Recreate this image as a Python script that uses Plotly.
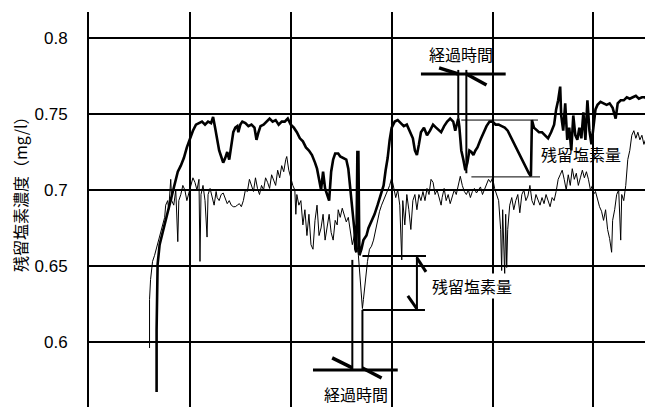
import plotly.graph_objects as go

# ---- data (time in arbitrary units, grid every 100; concentration in mg/l) ----
thick_t = [67, 67, 68, 70, 73, 76, 79, 82, 85, 88,
           91, 94, 97, 100, 103, 106, 109, 112, 115, 118,
           121, 123, 125, 127, 129, 131, 133, 135, 137, 139,
           141, 143, 145, 147, 148, 150, 152, 155, 158, 161,
           164, 166, 168, 170, 173, 176, 179, 182, 185, 188,
           191, 194, 197, 200, 203, 206, 209, 212, 215, 218,
           221, 224, 226, 228, 230, 232, 234, 236, 238, 240,
           242, 244, 247, 249, 252, 255, 257, 259, 261, 263,
           264, 265, 266, 267, 268, 270, 272, 275, 277, 280,
           283, 286, 289, 292, 294, 296, 298, 300, 303, 306,
           309, 312, 315, 318, 321, 323, 325, 327, 329, 332,
           335, 338, 341, 344, 347, 349, 352, 355, 358, 361,
           363, 365, 366, 367, 369, 371, 373, 375, 377, 379,
           381, 383, 385, 388, 391, 394, 397, 400, 403, 406,
           409, 412, 415, 418, 421, 424, 427, 430, 433, 436,
           438, 439, 441, 444, 446, 449, 452, 455, 458, 461,
           463, 465, 467, 468, 470, 472, 474, 476, 478, 480,
           482, 484, 486, 488, 490, 492, 494, 496, 498, 500,
           502, 504, 507, 510, 513, 516, 519, 522, 524, 527,
           530, 533, 536, 539, 542, 545, 548, 551, 554, 557,
           559]
thick_c = [0.567, 0.608, 0.651, 0.664, 0.672, 0.680, 0.690, 0.697, 0.705, 0.712,
           0.716, 0.721, 0.728, 0.734, 0.739, 0.743, 0.744, 0.745, 0.743, 0.745,
           0.744, 0.748, 0.741, 0.733, 0.726, 0.722, 0.718, 0.721, 0.725, 0.720,
           0.730, 0.738, 0.741, 0.742, 0.738, 0.743, 0.745, 0.744, 0.742, 0.743,
           0.741, 0.733, 0.738, 0.742, 0.743, 0.745, 0.747, 0.745, 0.746, 0.743,
           0.745, 0.745, 0.747, 0.743, 0.741, 0.738, 0.734, 0.732, 0.728, 0.726,
           0.723, 0.718, 0.714, 0.707, 0.700, 0.712, 0.701, 0.697, 0.693, 0.712,
           0.720, 0.724, 0.724, 0.722, 0.721, 0.720, 0.714, 0.700, 0.690, 0.674,
           0.661, 0.659, 0.725, 0.725, 0.657, 0.661, 0.667, 0.670, 0.675, 0.679,
           0.684, 0.690, 0.697, 0.703, 0.713, 0.721, 0.733, 0.741, 0.745, 0.746,
           0.744, 0.742, 0.743, 0.739, 0.734, 0.726, 0.723, 0.730, 0.738, 0.741,
           0.736, 0.739, 0.743, 0.741, 0.739, 0.738, 0.742, 0.745, 0.747, 0.745,
           0.739, 0.745, 0.747, 0.742, 0.726, 0.720, 0.713, 0.718, 0.726, 0.725,
           0.723, 0.726, 0.728, 0.733, 0.738, 0.742, 0.745, 0.745, 0.743, 0.743,
           0.742, 0.741, 0.739, 0.735, 0.730, 0.726, 0.722, 0.718, 0.714, 0.711,
           0.709, 0.746, 0.741, 0.739, 0.738, 0.738, 0.736, 0.734, 0.738, 0.743,
           0.753, 0.759, 0.768, 0.749, 0.739, 0.757, 0.733, 0.741, 0.726, 0.749,
           0.736, 0.733, 0.741, 0.734, 0.751, 0.733, 0.759, 0.739, 0.730, 0.743,
           0.753, 0.756, 0.758, 0.757, 0.756, 0.757, 0.754, 0.747, 0.757, 0.759,
           0.759, 0.761, 0.760, 0.761, 0.762, 0.760, 0.761, 0.761, 0.759, 0.757,
           0.757]

thin_t = [60, 60, 61, 63, 65, 67, 69, 71, 73, 75,
          76, 78, 79, 81, 82, 84, 86, 88, 89, 91,
          93, 95, 97, 99, 101, 103, 105, 107, 109, 110,
          111, 113, 115, 117, 118, 120, 122, 124, 126, 127,
          129, 131, 133, 135, 137, 139, 141, 143, 145, 147,
          149, 151, 153, 155, 157, 159, 161, 163, 165, 167,
          169, 171, 173, 175, 177, 179, 181, 183, 185, 187,
          189, 191, 193, 195, 196, 198, 200, 202, 204, 205,
          206, 208, 210, 212, 214, 216, 218, 220, 222, 224,
          226, 228, 230, 232, 234, 236, 238, 240, 242, 244,
          246, 247, 249, 251, 253, 255, 257, 259, 261, 263,
          265, 267, 269, 270, 271, 272, 274, 276, 278, 280,
          282, 284, 286, 288, 290, 292, 294, 296, 298, 300,
          302, 304, 306, 308, 310, 311, 313, 315, 317, 319,
          321, 323, 325, 327, 329, 331, 333, 335, 337, 339,
          341, 343, 345, 347, 349, 350, 352, 354, 356, 358,
          360, 362, 364, 366, 368, 370, 372, 374, 376, 378,
          380, 382, 384, 386, 388, 390, 392, 394, 396, 398,
          400, 402, 404, 406, 408, 409, 410, 411, 412, 413,
          414, 415, 417, 419, 421, 423, 425, 427, 429, 431,
          433, 435, 437, 439, 441, 443, 445, 447, 449, 451,
          453, 455, 457, 459, 461, 463, 465, 467, 469, 471,
          473, 475, 477, 479, 481, 483, 485, 487, 489, 491,
          493, 495, 497, 499, 500, 502, 504, 506, 508, 510,
          512, 514, 516, 518, 519, 521, 523, 525, 527, 528,
          530, 532, 534, 536, 538, 540, 542, 544, 546, 548,
          550, 552, 554, 556, 558, 559]
thin_c = [0.596, 0.628, 0.641, 0.653, 0.657, 0.662, 0.667, 0.672, 0.676, 0.682,
          0.690, 0.693, 0.687, 0.707, 0.693, 0.690, 0.700, 0.666, 0.693, 0.697,
          0.703, 0.700, 0.693, 0.699, 0.703, 0.708, 0.705, 0.700, 0.707, 0.653,
          0.697, 0.703, 0.693, 0.669, 0.697, 0.701, 0.695, 0.690, 0.699, 0.695,
          0.693, 0.697, 0.698, 0.695, 0.691, 0.693, 0.690, 0.689, 0.689, 0.690,
          0.691, 0.689, 0.693, 0.700, 0.699, 0.707, 0.703, 0.699, 0.708, 0.701,
          0.697, 0.703, 0.700, 0.708, 0.705, 0.701, 0.710, 0.707, 0.703, 0.713,
          0.708, 0.716, 0.712, 0.720, 0.722, 0.713, 0.708, 0.703, 0.700, 0.684,
          0.697, 0.690, 0.693, 0.677, 0.687, 0.670, 0.684, 0.664, 0.661, 0.680,
          0.690, 0.670, 0.675, 0.684, 0.667, 0.677, 0.684, 0.672, 0.667, 0.680,
          0.677, 0.687, 0.682, 0.688, 0.684, 0.679, 0.682, 0.674, 0.664, 0.670,
          0.667, 0.657, 0.641, 0.628, 0.622, 0.628, 0.641, 0.653, 0.661, 0.663,
          0.667, 0.674, 0.679, 0.686, 0.690, 0.693, 0.697, 0.700, 0.703, 0.708,
          0.701, 0.695, 0.700, 0.690, 0.654, 0.693, 0.677, 0.697, 0.687, 0.674,
          0.693, 0.697, 0.687, 0.697, 0.693, 0.699, 0.693, 0.701, 0.697, 0.707,
          0.705, 0.697, 0.700, 0.695, 0.690, 0.695, 0.701, 0.693, 0.697, 0.691,
          0.695, 0.700, 0.697, 0.703, 0.709, 0.703, 0.699, 0.697, 0.700, 0.695,
          0.699, 0.701, 0.698, 0.700, 0.702, 0.697, 0.700, 0.703, 0.707, 0.705,
          0.708, 0.701, 0.697, 0.693, 0.674, 0.647, 0.687, 0.667, 0.644, 0.684,
          0.649, 0.674, 0.690, 0.695, 0.687, 0.693, 0.697, 0.685, 0.697, 0.700,
          0.693, 0.696, 0.703, 0.693, 0.690, 0.697, 0.693, 0.690, 0.695, 0.691,
          0.697, 0.693, 0.689, 0.695, 0.693, 0.699, 0.707, 0.710, 0.713, 0.707,
          0.700, 0.710, 0.703, 0.714, 0.707, 0.711, 0.703, 0.708, 0.713, 0.708,
          0.712, 0.707, 0.700, 0.703, 0.697, 0.699, 0.693, 0.689, 0.686, 0.680,
          0.687, 0.674, 0.668, 0.659, 0.680, 0.687, 0.697, 0.700, 0.667, 0.697,
          0.693, 0.703, 0.720, 0.726, 0.736, 0.739, 0.734, 0.738, 0.733, 0.736,
          0.730, 0.734, 0.732, 0.728, 0.733, 0.730]

y_ticks = [0.6, 0.65, 0.7, 0.75, 0.8]
y_tick_labels = ["0.6", "0.65", "0.7", "0.75", "0.8"]
y_title = "残留塩素濃度（mg/l）"
label_time = "経過時間"
label_amount = "残留塩素量"

X_RANGE = [0, 559]
Y_RANGE = [0.5572, 0.8171]

fig = go.Figure()
fig.add_trace(go.Scatter(x=thin_t, y=thin_c, mode="lines",
                         line=dict(color="black", width=1), hoverinfo="skip"))
fig.add_trace(go.Scatter(x=thick_t, y=thick_c, mode="lines",
                         line=dict(color="black", width=2.6), hoverinfo="skip"))

def seg(x0, y0, x1, y1, w):
    fig.add_shape(type="line", x0=x0, y0=y0, x1=x1, y1=y1, xref="x", yref="y",
                  line=dict(color="black", width=w))

# upper "経過時間" marker
seg(329, 0.7763, 413, 0.7763, 3)
seg(366, 0.779, 366, 0.747, 2)
seg(374, 0.779, 374, 0.711, 2)
seg(347, 0.7803, 366, 0.7763, 3.5)
seg(374, 0.7763, 394, 0.7691, 3.5)
# upper "残留塩素量" marker
seg(369, 0.746, 445, 0.746, 1)
seg(379, 0.7086, 447, 0.7086, 1)
# lower "残留塩素量" marker
seg(271, 0.6566, 334, 0.6566, 2)
seg(271, 0.6211, 333, 0.6211, 2)
seg(325, 0.6566, 325, 0.6211, 2)
seg(325, 0.6553, 334, 0.6461, 3)
seg(316, 0.6303, 325, 0.6217, 3)
# lower "経過時間" marker
seg(261, 0.654, 261, 0.5816, 2)
seg(271, 0.6211, 271, 0.5816, 2)
seg(222, 0.5816, 306, 0.5816, 3)
seg(241, 0.5895, 261, 0.5829, 3.5)
seg(271, 0.5829, 290, 0.5763, 3.5)

cjk = "Noto Sans CJK JP"
fig.add_annotation(x=369, y=0.7895, xref="x", yref="y", text=label_time, showarrow=False,
                   font=dict(family=cjk, size=16, color="black"))
fig.add_annotation(x=488, y=0.7237, xref="x", yref="y", text=label_amount, showarrow=False,
                   font=dict(family=cjk, size=16, color="black"))
fig.add_annotation(x=380, y=0.6365, xref="x", yref="y", text=label_amount, showarrow=False,
                   font=dict(family=cjk, size=16, color="black"), bgcolor="white", borderpad=0)
fig.add_annotation(x=265, y=Y_RANGE[0], xref="x", yref="y", yanchor="bottom",
                   text=label_time, showarrow=False,
                   font=dict(family=cjk, size=16, color="black"), bgcolor="white", borderpad=0)
fig.add_annotation(x=-0.1223, y=0.7, xref="paper", yref="y", xanchor="center", yanchor="middle",
                   text=y_title, showarrow=False, textangle=-90,
                   font=dict(family=cjk, size=16, color="black"))

fig.update_layout(
    width=645, height=399,
    margin=dict(l=81, r=0, t=4, b=0),
    paper_bgcolor="white", plot_bgcolor="white",
    showlegend=False,
    xaxis=dict(range=X_RANGE, tick0=0, dtick=100, showgrid=True, gridcolor="black",
               gridwidth=2, zeroline=False, showticklabels=False, ticks="",
               showline=False, fixedrange=True),
    yaxis=dict(range=Y_RANGE, tickvals=y_ticks, ticktext=y_tick_labels, showgrid=True,
               gridcolor="black", gridwidth=2, zeroline=False, ticks="",
               showline=True, linecolor="black", linewidth=2, ticklabelstandoff=16,
               tickfont=dict(family="Liberation Sans", size=17, color="black"),
               fixedrange=True),
)

fig.write_html("out.html")
